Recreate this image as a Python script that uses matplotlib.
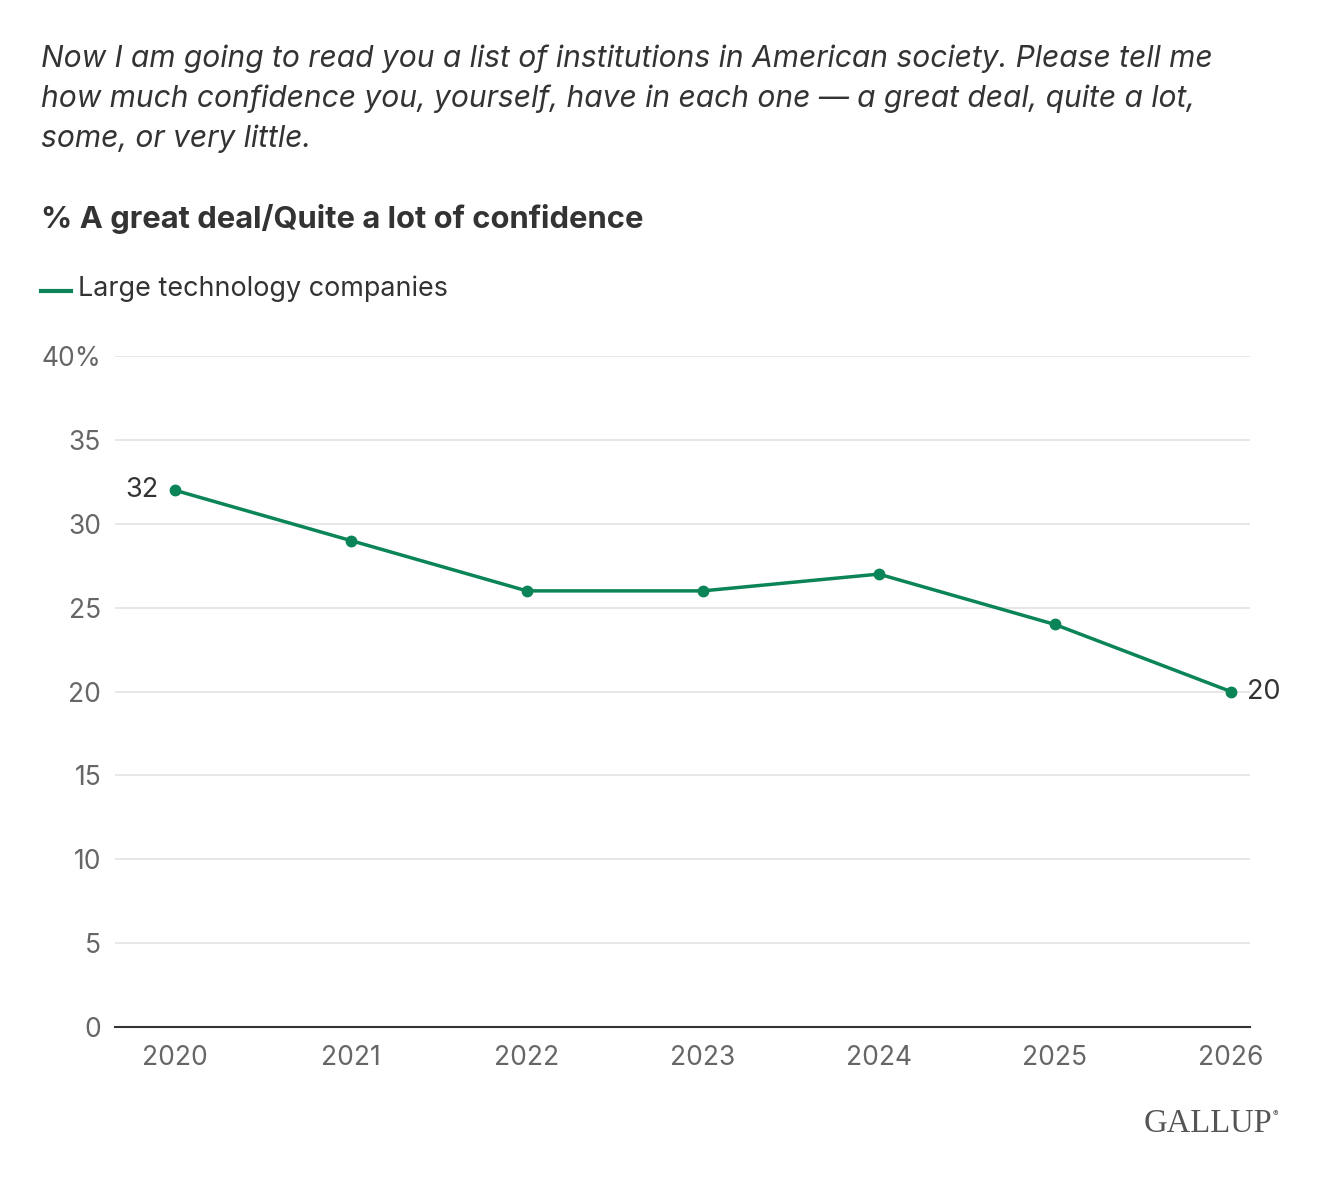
import matplotlib.pyplot as plt

# Data
years = [2020, 2021, 2022, 2023, 2024, 2025, 2026]
values = [32, 29, 26, 26, 27, 24, 20]
y_ticks = [0, 5, 10, 15, 20, 25, 30, 35, 40]
y_tick_labels = ['0', '5', '10', '15', '20', '25', '30', '35', '40%']

green = '#0b8457'
dark = '#333333'
grey = '#666666'

plt.rcParams['font.family'] = ['Inter', 'DejaVu Sans']

fig = plt.figure(figsize=(13.2, 11.82), dpi=100)
ax = fig.add_axes([0.0871, 0.1311, 0.860, 0.5677])

ax.plot(years, values, color=green, linewidth=2.5, marker='o', markersize=7.5, clip_on=False, zorder=3)

ax.set_xlim(2019.66, 2026.11)
ax.set_ylim(0, 40)
ax.set_yticks(y_ticks)
ax.set_yticklabels(y_tick_labels)
ax.set_xticks(years)
ax.set_xticklabels([str(y) for y in years])

ax.grid(axis='y', color='#e3e3e3', linewidth=1.2)
ax.set_axisbelow(True)
for side in ['top', 'right', 'left']:
    ax.spines[side].set_visible(False)
ax.spines['bottom'].set_color(dark)
ax.spines['bottom'].set_linewidth(1.5)
ax.tick_params(axis='both', length=0, labelsize=19, labelcolor=grey)
ax.tick_params(axis='x', pad=13)
ax.tick_params(axis='y', pad=10)

# end labels
ax.annotate(str(values[0]), (years[0], values[0]), xytext=(-12, 0), textcoords='offset points',
            ha='right', va='center', fontsize=19.5, color=dark)
ax.annotate(str(values[-1]), (years[-1], values[-1]), xytext=(12, 0), textcoords='offset points',
            ha='left', va='center', fontsize=19.5, color=dark)

# header text
fig.text(41 / 1320, 1 - 99 / 1182,
         "Now I am going to read you a list of institutions in American society. Please tell me\n"
         "how much confidence you, yourself, have in each one \u2014 a great deal, quite a lot,\n"
         "some, or very little.",
         fontsize=21.6, style='italic', color=dark, va='center', ha='left', linespacing=1.52)
fig.text(41 / 1320, 1 - 219 / 1182, "% A great deal/Quite a lot of confidence",
         fontsize=22.3, fontweight='bold', color=dark, va='center', ha='left')

# legend
fig.add_artist(plt.Line2D([41 / 1320, 71 / 1320], [1 - 291 / 1182] * 2, color=green, linewidth=3))
fig.text(78 / 1320, 1 - 289 / 1182, "Large technology companies",
         fontsize=19.4, color=dark, va='center', ha='left')

# logo
fig.text(1272 / 1320, 1 - 1124 / 1182, "GALLUP", family=['Liberation Serif', 'DejaVu Serif'],
         fontsize=23.5, color='#555555', va='center', ha='right')
fig.text(1273 / 1320, 1 - 1114 / 1182, "\u00ae", fontsize=6, color='#555555', va='center', ha='left')

fig.savefig('out.png', dpi=100, facecolor='white')
